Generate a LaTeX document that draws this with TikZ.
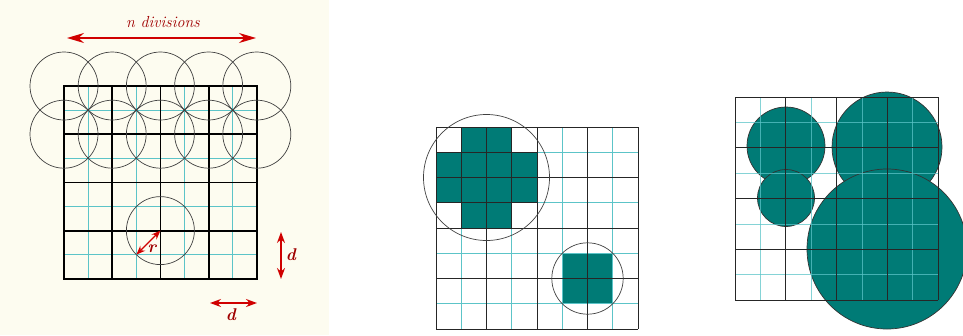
\documentclass[tikz,border=0pt]{standalone}
\usetikzlibrary{arrows.meta}
\definecolor{cream}{HTML}{FDFCF0}
\definecolor{tealfill}{HTML}{007B76}
\definecolor{gridcyan}{HTML}{5CC4C8}
\definecolor{arrowred}{HTML}{D00000}
\definecolor{textred}{HTML}{A00000}

\begin{document}
\begin{tikzpicture}[x=1pt,y=-1pt,>={Stealth[length=11pt,width=8pt]}]
\tikzset{major/.style={line width=1.8pt,line cap=rect},
  minor/.style={gridcyan,line width=1pt},
  fine/.style={gridcyan,line width=1pt,opacity=0.75},
  thin/.style={black!85,line width=0.9pt},
  ring/.style={black!75,line width=0.7pt},
  bubble/.style={fill=tealfill,draw=black!80,line width=0.7pt},
  dbl/.style={arrowred,line width=1.4pt,<->},
  lab/.style={textred,font=\fontsize{16}{18}\selectfont\itshape},
  blab/.style={textred,font=\fontsize{17}{19}\selectfont\bfseries\itshape}}
\useasboundingbox (0,0) rectangle (963,335);
% ================= left panel =================
\fill[cream] (0,0) rectangle (329,335);
\def\dd{48.2}
% cyan half lines
\foreach \i in {0,...,3}{
  \draw[minor] ({64+\dd*(\i+0.5)},86) -- ({64+\dd*(\i+0.5)},278.8);
  \draw[minor] (64,{86+\dd*(\i+0.5)}) -- (256.8,{86+\dd*(\i+0.5)});
}
% black cells
\foreach \i in {0,...,4}{
  \draw[major] ({64+\dd*\i},86) -- ({64+\dd*\i},278.8);
  \draw[major] (64,{86+\dd*\i}) -- (256.8,{86+\dd*\i});
}
% two rows of circles
\foreach \i in {0,...,4}{
  \draw[ring] ({64+\dd*\i},86) circle[radius=34];
  \draw[ring] ({64+\dd*\i},134.2) circle[radius=34];
}
\draw[ring] (160.4,230.6) circle[radius=34];
% radius
\coordinate (rc) at (160.4,230.6);
\coordinate (rp) at (136.4,254.6);
\draw[dbl,>={Stealth[length=9pt,width=7pt]}] (rc) -- (rp);
\node[blab] (rlab) at (152,249) {r};
% n divisions
\coordinate (nL) at (67,38);
\coordinate (nR) at (256,38);
\draw[dbl,>={Stealth[length=17pt,width=10pt]}] (nL) -- (nR);
\node[lab] (ndiv) at (163,22) {n divisions};
% d arrows
\coordinate (dT) at (281,232);
\coordinate (dB) at (281,279);
\draw[dbl] (dT) -- (dB);
\node[blab] (dv) at (291,255) {d};
\coordinate (dL) at (210,303);
\coordinate (dR) at (257,303);
\draw[dbl] (dL) -- (dR);
\node[blab] (dh) at (231,315) {d};
% ================= middle panel =================
\def\fm{25.25}
\foreach \c/\r in {1/0,2/0,0/1,1/1,2/1,3/1,0/2,1/2,2/2,3/2,1/3,2/3,5/5,6/5,5/6,6/6}{
  \fill[tealfill] ({436+\fm*\c},{127+\fm*\r}) rectangle +(\fm,\fm);
}
\foreach \i in {1,3,5,7}{
  \draw[minor] ({436+\fm*\i},127) -- ({436+\fm*\i},{127+8*\fm});
  \draw[minor] (436,{127+\fm*\i}) -- ({436+8*\fm},{127+\fm*\i});
}
% refined quarter
\foreach \i in {1,3}{
  \draw[thin] ({436+\fm*\i},127) -- ({436+\fm*\i},{127+4*\fm});
  \draw[thin] (436,{127+\fm*\i}) -- ({436+4*\fm},{127+\fm*\i});
}
\foreach \i in {0,2,4,6,8}{
  \draw[thin] ({436+\fm*\i},127) -- ({436+\fm*\i},{127+8*\fm});
  \draw[thin] (436,{127+\fm*\i}) -- ({436+8*\fm},{127+\fm*\i});
}
\draw[ring] ({436+2*\fm},{127+2*\fm}) circle[radius=63];
\draw[ring] ({436+6*\fm},{127+6*\fm}) circle[radius=35.7];
% ================= right panel =================
\def\fr{25.4}
\filldraw[bubble] (786,146) circle[radius=39];
\filldraw[bubble] (887,147) circle[radius=55];
\filldraw[bubble] (786,198) circle[radius=28.5];
\filldraw[bubble] (887,249) circle[radius=80];
\foreach \i in {1,3,5,7}{
  \draw[fine] ({735+\fr*\i},97) -- ({735+\fr*\i},{97+8*\fr});
  \draw[fine] (735,{97+\fr*\i}) -- ({735+8*\fr},{97+\fr*\i});
}
\foreach \i in {0,2,4,6,8}{
  \draw[thin] ({735+\fr*\i},97) -- ({735+\fr*\i},{97+8*\fr});
  \draw[thin] (735,{97+\fr*\i}) -- ({735+8*\fr},{97+\fr*\i});
}
\end{tikzpicture}
\end{document}
